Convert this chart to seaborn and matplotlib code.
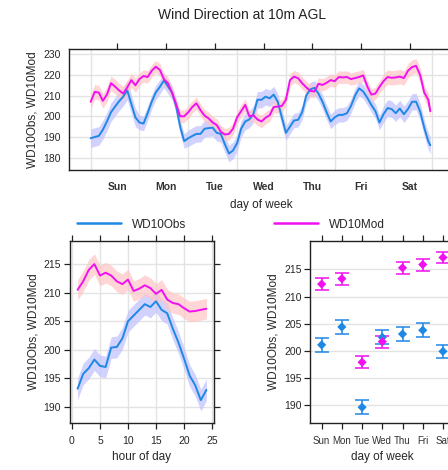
import numpy as np
import pandas as pd
import matplotlib
matplotlib.use("Agg")
import matplotlib.pyplot as plt
import seaborn as sns
from matplotlib.lines import Line2D

# hour of week (0 = Sunday 00:00)
week_hour = list(range(0, 168, 2)) + [167]
week_obs = [189.4, 190.0, 190.5, 193.5, 197.5, 202.0, 204.7, 207.3, 209.5, 212.5, 206.0, 199.5,
            197.0, 196.5, 201.5, 207.0, 211.5, 214.2, 217.3, 214.5, 211.5, 205.0, 195.0, 188.0,
            189.4, 190.5, 191.5, 191.5, 194.0, 194.3, 194.5, 192.0, 191.5, 186.5, 182.0, 183.5,
            187.0, 194.0, 197.5, 198.5, 201.0, 208.0, 208.0, 209.5, 208.7, 210.5, 207.0, 199.5,
            192.0, 195.0, 198.0, 198.3, 202.0, 210.0, 213.0, 213.8, 211.0, 207.0, 202.0, 197.5,
            199.5, 200.7, 200.7, 201.5, 205.0, 210.0, 213.5, 212.0, 209.0, 205.5, 202.5, 197.0,
            201.0, 204.0, 203.5, 201.5, 203.8, 201.0, 203.5, 207.0, 207.1, 202.3, 194.5, 188.0,
            186.0]
week_mod = [207.0, 211.8, 211.5, 207.5, 210.5, 216.0, 214.4, 212.5, 211.0, 214.0, 217.5, 215.0,
            218.0, 219.5, 219.0, 222.0, 224.0, 222.5, 218.0, 216.0, 211.5, 206.0, 200.0, 200.0,
            202.0, 204.5, 206.3, 203.0, 200.3, 199.0, 197.0, 195.8, 192.5, 191.2, 191.5, 194.0,
            199.5, 202.5, 205.5, 200.0, 200.5, 198.5, 197.5, 199.3, 200.5, 204.5, 204.7, 205.0,
            208.0, 217.5, 219.2, 218.4, 216.0, 214.0, 212.3, 212.0, 215.7, 215.2, 216.2, 217.5,
            217.0, 219.0, 218.8, 219.0, 218.0, 218.5, 219.0, 219.8, 214.5, 210.5, 211.0, 214.2,
            217.0, 219.0, 218.6, 218.8, 219.2, 218.5, 222.0, 223.8, 224.4, 220.0, 211.5, 208.0,
            202.5]
# confidence half-widths per day (Sun..Sat)
week_obs_ci = [4.5, 3.5, 4.0, 4.0, 3.5, 3.5, 4.0]
week_mod_ci = [3.5, 3.0, 3.0, 3.0, 3.0, 3.0, 3.5]

# hour of day panel
hour = list(range(1, 25))
hour_obs = [193.2, 195.8, 196.8, 198.3, 197.2, 197.0, 200.4, 200.5, 202.0, 205.0, 206.0, 207.0,
            208.0, 207.5, 208.5, 207.0, 206.4, 203.7, 201.3, 198.5, 195.5, 193.8, 191.2, 193.0]
hour_mod = [210.5, 212.0, 214.0, 215.0, 213.0, 213.5, 213.0, 212.0, 211.5, 212.3, 210.3, 210.7,
            211.3, 210.8, 209.8, 210.5, 208.8, 208.2, 208.0, 207.3, 206.7, 206.8, 207.0, 207.2]
hour_obs_ci = 1.9
hour_mod_ci = 1.8

# day of week panel
days = ["Sun", "Mon", "Tue", "Wed", "Thu", "Fri", "Sat"]
day_obs = [201.1, 204.4, 189.6, 202.5, 203.1, 203.8, 199.9]
day_mod = [212.3, 213.3, 197.9, 201.7, 215.3, 215.9, 217.2]
day_obs_ci = 1.25
day_mod_ci = 1.1

series = ["WD10Obs", "WD10Mod"]
line_cols = ["#1e88e5", "#f010f0"]
band_cols = ["#c0c0ff", "#ffc4c4"]

sns.set_theme(style="white")
plt.rcParams["font.family"] = ["Liberation Sans", "DejaVu Sans"]
plt.rcParams["axes.edgecolor"] = "#222222"
plt.rcParams["axes.linewidth"] = 1.0

fig = plt.figure(figsize=(4.48, 4.70), dpi=100)
W, H = 448.0, 470.0


def box(l, t, r, b):
    return fig.add_axes([l / W, 1 - b / H, (r - l) / W, (b - t) / H])


def style(ax):
    ax.grid(True, color="#e3e3e3", lw=1)
    ax.set_axisbelow(True)
    ax.tick_params(direction="out", length=4.3, width=0.9, color="#222222",
                   labelsize=7.5, pad=2, top=True, right=True,
                   labeltop=False, labelright=False, bottom=True, left=True)


# ---- top panel: hour of week
ax1 = box(69.3, 49.3, 453.7, 170.3)
wk = pd.DataFrame({"hour": week_hour * 2,
                   "value": week_obs + week_mod,
                   "variable": [series[0]] * len(week_hour) + [series[1]] * len(week_hour)})
day_idx = np.minimum(np.array(week_hour) // 24, 6)
for vals, ci, bc in [(week_obs, week_obs_ci, band_cols[0]), (week_mod, week_mod_ci, band_cols[1])]:
    v = np.array(vals)
    c = np.array(ci)[day_idx]
    ax1.fill_between(week_hour, v - c, v + c, color=bc, alpha=0.7, lw=0)
sns.lineplot(data=wk, x="hour", y="value", hue="variable", palette=line_cols,
             lw=1.4, ax=ax1, legend=False)
ax1.set_xlim(-10.5, 178.5)
ax1.set_ylim(173.9, 232.4)
ax1.set_yticks([180, 190, 200, 210, 220, 230])
ax1.set_xticks(np.arange(0, 169, 24), minor=True)
ax1.set_xticks([13 + 24 * i for i in range(7)])
ax1.set_xticklabels(days, fontsize=7, fontweight="bold", color="#333333")
ax1.grid(False)
ax1.grid(True, axis="y", color="#e3e3e3", lw=1)
ax1.grid(True, axis="x", which="minor", color="#e3e3e3", lw=1)
ax1.set_axisbelow(True)
ax1.tick_params(direction="out", length=4.3, width=0.9, color="#222222",
                labelsize=7.5, pad=2, top=True, right=True, labeltop=False, labelright=False)
ax1.tick_params(axis="x", which="minor", length=0)
ax1.tick_params(axis="x", pad=4)
ax1.set_xlabel("day of week", fontsize=8.5, labelpad=5)
ax1.set_ylabel("WD10Obs, WD10Mod", fontsize=8.5, labelpad=3)

# ---- legend
handles = [Line2D([], [], color=c, lw=1.8) for c in line_cols]
fig.legend(handles, series, loc="center", bbox_to_anchor=(231 / W, 1 - 224.5 / H),
           ncol=2, frameon=False, fontsize=8.5, handlelength=3.7, columnspacing=7.5,
           handletextpad=0.9)

# ---- bottom left: hour of day
ax2 = box(69.7, 240.7, 213.7, 423)
hr = pd.DataFrame({"hour": hour * 2,
                   "value": hour_obs + hour_mod,
                   "variable": [series[0]] * len(hour) + [series[1]] * len(hour)})
for vals, ci, bc in [(hour_obs, hour_obs_ci, band_cols[0]), (hour_mod, hour_mod_ci, band_cols[1])]:
    v = np.array(vals)
    ax2.fill_between(hour, v - ci, v + ci, color=bc, alpha=0.7, lw=0)
sns.lineplot(data=hr, x="hour", y="value", hue="variable", palette=line_cols,
             lw=1.4, ax=ax2, legend=False)
style(ax2)
ax2.set_xlim(-0.41, 25.3)
ax2.set_ylim(187.2, 219.1)
ax2.set_xticks([0, 5, 10, 15, 20, 25])
ax2.set_yticks([190, 195, 200, 205, 210, 215])
ax2.tick_params(axis="x", pad=5)
ax2.set_xlabel("hour of day", fontsize=8.5, labelpad=4)
ax2.set_ylabel("WD10Obs, WD10Mod", fontsize=8.5, labelpad=3)

# ---- bottom right: day of week
ax3 = box(310.3, 240.7, 454.3, 423)
dw = pd.DataFrame({"day": list(range(7)) * 2,
                   "value": day_obs + day_mod,
                   "variable": [series[0]] * 7 + [series[1]] * 7})
for vals, ci, lc in [(day_obs, day_obs_ci, line_cols[0]), (day_mod, day_mod_ci, line_cols[1])]:
    ax3.errorbar(range(7), vals, yerr=ci, fmt="none", ecolor=lc, elinewidth=1.1,
                 capsize=5, capthick=1.1)
sns.scatterplot(data=dw, x="day", y="value", hue="variable", palette=line_cols,
                marker="D", s=22, linewidth=0, ax=ax3, legend=False, zorder=3)
style(ax3)
ax3.grid(False)
ax3.grid(True, axis="y", color="#e3e3e3", lw=1)
ax3.set_xlim(-0.56, 6.56)
ax3.set_ylim(186.7, 220.3)
ax3.set_xticks(range(7))
ax3.set_xticklabels(days, fontsize=7, color="#333333")
ax3.set_yticks([190, 195, 200, 205, 210, 215])
ax3.tick_params(axis="x", pad=5)
ax3.set_xlabel("day of week", fontsize=8.5, labelpad=4)
ax3.set_ylabel("WD10Obs, WD10Mod", fontsize=8.5, labelpad=3)

fig.text(242 / W, 1 - 15 / H, "Wind Direction at 10m AGL", ha="center", va="center",
         fontsize=10, color="#222222")

fig.savefig("out.png", dpi=100)
